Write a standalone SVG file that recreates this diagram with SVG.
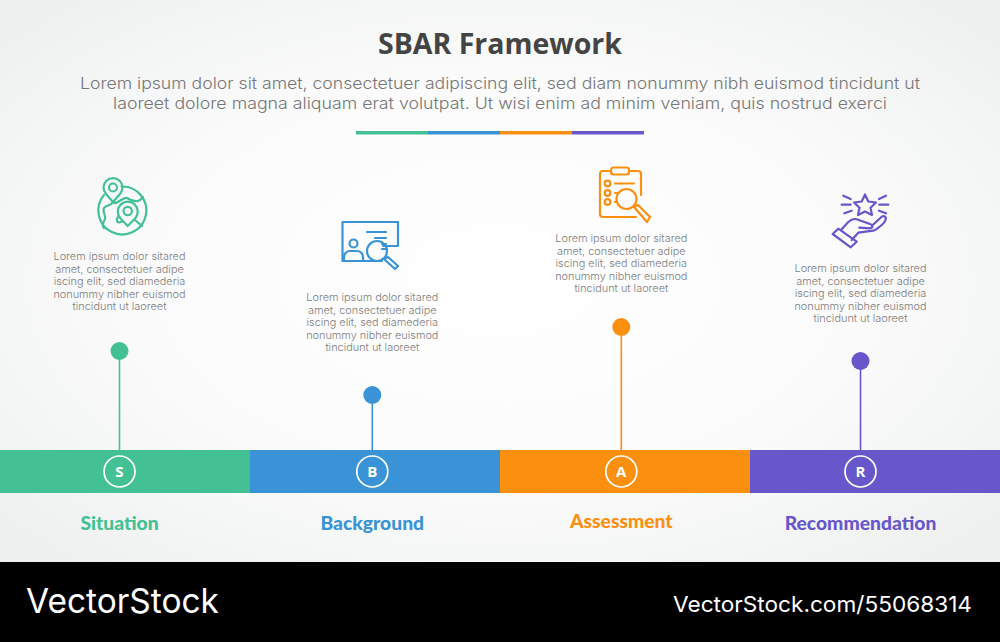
<svg xmlns="http://www.w3.org/2000/svg" width="1000" height="642" viewBox="0 0 1000 642">
<defs>
<radialGradient id="bg" cx="50%" cy="50%" r="65%"><stop offset="0" stop-color="#ffffff"/><stop offset="0.55" stop-color="#fbfbfb"/><stop offset="1" stop-color="#eff1f1"/></radialGradient>
</defs>
<style>
.title{font:700 28.500px "Open Sans",sans-serif;fill:#444444;text-anchor:middle}
.sub{font:300 16.500px Inter,sans-serif;fill:#777777;text-anchor:middle}
.body{font:300 10.900px Inter,sans-serif;fill:#7c7c7c;text-anchor:middle}
.lab{font:900 19.300px Lato,sans-serif;text-anchor:middle}
.let{font:700 15px "Open Sans",sans-serif;fill:#fff;text-anchor:middle}
.ring{fill:none;stroke:#fff;stroke-width:1.7}
.ic{fill:none;stroke-width:2.200;stroke-linecap:round;stroke-linejoin:round}
.wm{font-family:Inter,"Liberation Sans",sans-serif;fill:#fff}
.s{stroke:#43c194}.b{stroke:#3993d6}.a{stroke:#fb8f10}.r{stroke:#6757cb}
</style>
<rect width="1000" height="562" fill="url(#bg)"/>
<g id="header">
<text class="title" x="500" y="54">SBAR Framework</text>
<text class="sub" x="500" y="88.500" textLength="840" lengthAdjust="spacingAndGlyphs">Lorem ipsum dolor sit amet, consectetuer adipiscing elit, sed diam nonummy nibh euismod tincidunt ut</text>
<text class="sub" x="500" y="109" textLength="774" lengthAdjust="spacingAndGlyphs">laoreet dolore magna aliquam erat volutpat. Ut wisi enim ad minim veniam, quis nostrud exerci</text>
<rect x="356" y="131" width="72" height="3.500" fill="#43c194"/><rect x="428" y="131" width="72" height="3.500" fill="#3993d6"/><rect x="500" y="131" width="72" height="3.500" fill="#fb8f10"/><rect x="572" y="131" width="72" height="3.500" fill="#6757cb"/>
</g>
<g id="connectors" stroke-width="1.600">
<line x1="119.500" y1="351" x2="119.500" y2="451" class="s"/>
<line x1="372.300" y1="395" x2="372.300" y2="451" class="b"/>
<line x1="621.300" y1="327" x2="621.300" y2="451" class="a"/>
<line x1="860.500" y1="361" x2="860.500" y2="451" class="r"/>
</g>
<g id="node-s">
<g class="ic s" transform="translate(80,170)">
<path d="M41.500 16.500A24 24 0 1 1 24 25"/>
<path d="M33 32C36 36 42 27 47 28C50 30 53 32 58 31C61 30 62 28 63 27"/>
<path d="M33 32L26 24A9.500 9.500 0 1 1 40 24Z"/>
<circle cx="33" cy="17.500" r="4"/>
<path d="M33 32C31 36 26 35 24 38C22 41 26 45 25 49C24 52 21 54 24 58"/>
<path d="M47.700 56L40 48A10 10 0 1 1 55.500 48Z"/>
<circle cx="47.700" cy="41" r="4.200"/>
<path d="M39.500 46.500C36 47 36 52 39 52.500L42.500 51.500M55 50L62 56"/>
</g>
<circle cx="119.500" cy="351" r="9" fill="#43c194"/>
<text class="body" x="119.500" y="260">Lorem ipsum dolor sitared</text>
<text class="body" x="119.500" y="272.500">amet, consectetuer adipe</text>
<text class="body" x="119.500" y="285">iscing elit, sed diamederia</text>
<text class="body" x="119.500" y="297.500">nonummy nibher euismod</text>
<text class="body" x="119.500" y="310">tincidunt ut laoreet</text>
<rect x="0" y="450" width="250" height="43" fill="#43c194"/>
<circle class="ring" cx="119.500" cy="471.500" r="15.500"/>
<text class="let" x="119.500" y="476.800">S</text>
<text class="lab" x="119.500" y="530" fill="#43c194">Situation</text>
</g>
<g id="node-b">
<g class="ic b" transform="translate(330,210)">
<path d="M53 36L68 36L68 12L12.500 12L12.500 51L52 51"/>
<circle cx="23.500" cy="33.500" r="4"/>
<path d="M14 51V47A6 6 0 0 1 20 41H27A6 6 0 0 1 33 47V51Z"/>
<path d="M37 22H56M45 28H56M52 34H56M52 39H56"/>
<circle cx="47" cy="41" r="10"/>
<path d="M54 49L58 47L68 56L65 59Z"/>
</g>
<circle cx="372.300" cy="395" r="9" fill="#3993d6"/>
<text class="body" x="372.300" y="301">Lorem ipsum dolor sitared</text>
<text class="body" x="372.300" y="313.500">amet, consectetuer adipe</text>
<text class="body" x="372.300" y="326">iscing elit, sed diamederia</text>
<text class="body" x="372.300" y="338.500">nonummy nibher euismod</text>
<text class="body" x="372.300" y="351">tincidunt ut laoreet</text>
<rect x="250" y="450" width="250" height="43" fill="#3993d6"/>
<circle class="ring" cx="372.300" cy="471.500" r="15.500"/>
<text class="let" x="372.300" y="476.800">B</text>
<text class="lab" x="372.300" y="530" fill="#3993d6">Background</text>
</g>
<g id="node-a">
<g class="ic a" transform="translate(580,160)">
<path d="M31 11H23A3 3 0 0 0 20 14V54A3 3 0 0 0 23 57H56M49 11H58A3 3 0 0 1 61 14V35"/>
<rect x="31" y="7.500" width="18" height="7" rx="2.500"/>
<circle cx="27.500" cy="23.500" r="2.800"/><circle cx="27.500" cy="33" r="2.800"/><circle cx="27.500" cy="42" r="2.800"/>
<path d="M35 23.500H54M35 33H37M35 42H37"/>
<circle cx="46.500" cy="39" r="10"/>
<path d="M54 47L58 45L70 57L67 62Z"/>
</g>
<circle cx="621.300" cy="327" r="9" fill="#fb8f10"/>
<text class="body" x="621.300" y="242">Lorem ipsum dolor sitared</text>
<text class="body" x="621.300" y="254.500">amet, consectetuer adipe</text>
<text class="body" x="621.300" y="267">iscing elit, sed diamederia</text>
<text class="body" x="621.300" y="279.500">nonummy nibher euismod</text>
<text class="body" x="621.300" y="292">tincidunt ut laoreet</text>
<rect x="500" y="450" width="250" height="43" fill="#fb8f10"/>
<circle class="ring" cx="621.300" cy="471.500" r="15.500"/>
<text class="let" x="621.300" y="476.800">A</text>
<text class="lab" x="621.300" y="528" fill="#fb8f10">Assessment</text>
</g>
<g id="node-r">
<g class="ic r" transform="translate(820,190)">
<path d="M45 4.500L48.300 11.500L56 12.500L50.500 17.800L52 25L45 21.500L38 25L39.500 17.800L34 12.500L41.700 11.500Z"/>
<path d="M23.300 5.700L30.700 9M21.700 14.700H30.700M24.300 23.300L31.700 20.700M59 9L66 5.700M59.300 14.700H68.300M59 20.700L66 23.300"/>
<path d="M21 40L28.300 32C31 29.500 34 28.500 36.700 29.300L50 34C53 35 53.500 37.500 50 38.300L39.300 37.700"/>
<path d="M52.700 35L61.700 26.700C64 25.500 66.500 26.500 65.700 29.500C65 32 63.500 33.500 61.700 35C58 38 56 40 53.300 40.700L38.300 42.700L31.700 50"/>
<path d="M12.700 44L18.300 38.700L36.700 51.700L30.700 57.300Z"/>
</g>
<circle cx="860.500" cy="361" r="9" fill="#6757cb"/>
<text class="body" x="860.500" y="272">Lorem ipsum dolor sitared</text>
<text class="body" x="860.500" y="284.500">amet, consectetuer adipe</text>
<text class="body" x="860.500" y="297">iscing elit, sed diamederia</text>
<text class="body" x="860.500" y="309.500">nonummy nibher euismod</text>
<text class="body" x="860.500" y="322">tincidunt ut laoreet</text>
<rect x="750" y="450" width="250" height="43" fill="#6757cb"/>
<circle class="ring" cx="860.500" cy="471.500" r="15.500"/>
<text class="let" x="860.500" y="476.800">R</text>
<text class="lab" x="860.500" y="530" fill="#6757cb">Recommendation</text>
</g>
<g id="watermark">
<rect y="562" width="1000" height="80" fill="#000"/>
<text class="wm" x="26" y="613" font-size="33.500" textLength="193" lengthAdjust="spacingAndGlyphs">VectorStock</text>
<text class="wm" x="673" y="612" font-size="22" textLength="299" lengthAdjust="spacingAndGlyphs">VectorStock.com/55068314</text>
</g>
</svg>
